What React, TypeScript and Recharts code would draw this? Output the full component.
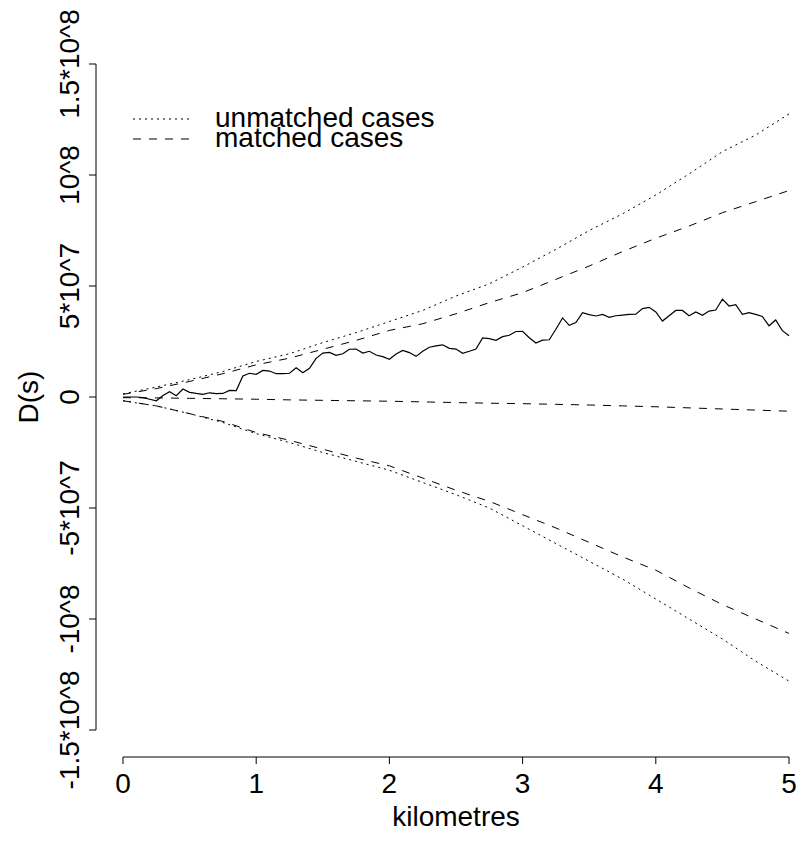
import React from "react";
import { LineChart, Line, XAxis, YAxis, ReferenceLine } from "recharts";

const FONT = '"Liberation Sans", Arial, Helvetica, sans-serif';

// distances (km) for the simulation envelopes
const envelopeKm = [0, 0.25, 0.5, 0.75, 1, 1.25, 1.5, 1.75, 2, 2.25, 2.5, 2.75, 3, 3.25, 3.5, 3.75, 4, 4.25, 4.5, 4.75, 5];

// D(s) in units of 10^6
const unmatchedUpper = [1.4, 4.5, 7.8, 11.5, 16, 19.5, 24.5, 29, 34, 39, 45.5, 51, 58.5, 66.5, 75, 82.5, 91, 100.5, 110.5, 118, 127.5];
const unmatchedLower = [-1.7, -4, -7.5, -11.5, -16.5, -20.5, -25, -29, -33, -38.5, -44, -50, -58, -66, -74, -82, -91, -100, -109, -119, -128];
const matchedUpper = [1.2, 3.8, 7, 10.5, 14.5, 17.5, 21.5, 25.5, 30, 33, 37.5, 42.5, 47, 53, 59, 65.5, 71.5, 77, 83, 88, 93];
const matchedLower = [-1.7, -4, -7.5, -11, -16, -19.5, -23.5, -27.5, -31, -36.5, -42, -47, -53, -59, -65.5, -72, -78, -86, -93.5, -100, -106.5];
const matchedMean = [-0.3, -0.4, -0.6, -0.8, -1.0, -1.3, -1.5, -1.7, -1.9, -2.2, -2.5, -2.8, -3.0, -3.3, -3.6, -4.0, -4.4, -4.9, -5.4, -5.9, -6.4];

// observed D(s), every 0.05 km from 0 to 5
const observed = [
  0, 0, 0, -0.3, -1, -1.7, 0.7, 2.4, 0.6, 3.6,
  2.1, 1.6, 1.2, 1.9, 1.5, 1.6, 3, 2.9, 9.5, 10.7,
  10.2, 12, 11.7, 10.5, 10.5, 10.7, 13.2, 10.9, 12.9, 17.4,
  19.8, 20.1, 18.8, 19.5, 21.5, 21.6, 19.8, 20.6, 18.9, 18.2,
  17, 19.4, 21, 20, 18.3, 20.6, 22.4, 23, 23.5, 21.9,
  21.6, 19.7, 20.6, 21.6, 26.6, 26.3, 25.5, 27.2, 27.8, 29.5,
  29.6, 26.7, 24.3, 25.6, 25.8, 30.5, 35.6, 32.3, 33.5, 38,
  37.1, 36.5, 37.2, 35.9, 36.6, 36.9, 37.2, 37.3, 39.8, 40.4,
  38.3, 34.2, 36.6, 39, 39, 36.6, 38.3, 36.8, 38.7, 39.2,
  44.1, 41, 41.6, 37.2, 38, 37.2, 36.3, 32.1, 34.7, 29.9,
  27.6,
];

const xTicks = [0, 1, 2, 3, 4, 5];
const yTicks = [-150, -100, -50, 0, 50, 100, 150];
const yTickLabels = ["-1.5*10^8", "-10^8", "-5*10^7", "0", "5*10^7", "10^8", "1.5*10^8"];

const X_MIN = -0.2027;
const Y_MIN = -162.16;

const toRows = (ys: number[]) => ys.map((d, i) => ({ km: envelopeKm[i], d }));
const observedRows = observed.map((d, i) => ({ km: i * 0.05, d }));

const DOTTED = "2 4";
const DASHED = "8 8";

function YTick(props: any) {
  const { x, y, payload } = props;
  const label = yTickLabels[yTicks.indexOf(payload.value)];
  return (
    <text
      x={x}
      y={y}
      transform={`rotate(-90 ${x} ${y})`}
      textAnchor="middle"
      fontSize={28}
      fontFamily={FONT}
      fill="#000"
    >
      {label}
    </text>
  );
}

function Key() {
  return (
    <svg width={460} height={160} style={{ position: "absolute", left: 0, top: 0, pointerEvents: "none" }}>
      <line x1={133} y1={119} x2={190} y2={119} stroke="#000" strokeDasharray={DOTTED} />
      <line x1={133} y1={139} x2={190} y2={139} stroke="#000" strokeDasharray={DASHED} />
      <text x={215} y={127} fontSize={28} fontFamily={FONT} fill="#000">unmatched cases</text>
      <text x={215} y={147} fontSize={28} fontFamily={FONT} fill="#000">matched cases</text>
    </svg>
  );
}

export default function App() {
  return (
    <div style={{ position: "absolute", left: 0, top: 0, width: 798, height: 841, background: "#fff" }}>
      <LineChart width={798} height={841} margin={{ top: 64, right: 9, bottom: 0, left: 0 }}>
        <XAxis
          type="number"
          dataKey="km"
          domain={[X_MIN, 5]}
          ticks={xTicks}
          height={84}
          axisLine={false}
          tickLine={{ stroke: "#000" }}
          tickSize={7}
          tickMargin={9}
          tick={{ fill: "#000", fontSize: 28, fontFamily: FONT }}
          label={() => (
            <text x={456} y={826} textAnchor="middle" fontSize={28} fontFamily={FONT} fill="#000">
              kilometres
            </text>
          )}
        />
        <YAxis
          type="number"
          domain={[Y_MIN, 150]}
          ticks={yTicks}
          width={96}
          axisLine={false}
          tickLine={{ stroke: "#000" }}
          tickSize={7}
          tickMargin={10}
          tick={<YTick />}
          label={() => (
            <text
              x={38}
              y={397}
              transform="rotate(-90 38 397)"
              textAnchor="middle"
              fontSize={28}
              fontFamily={FONT}
              fill="#000"
            >
              D(s)
            </text>
          )}
        />
        <ReferenceLine segment={[{ x: 0, y: Y_MIN }, { x: 5, y: Y_MIN }]} stroke="#000" />
        <ReferenceLine segment={[{ x: X_MIN, y: -150 }, { x: X_MIN, y: 150 }]} stroke="#000" />

        <Line data={toRows(unmatchedUpper)} dataKey="d" type="linear" stroke="#000" strokeWidth={1} strokeDasharray={DOTTED} dot={false} isAnimationActive={false} />
        <Line data={toRows(unmatchedLower)} dataKey="d" type="linear" stroke="#000" strokeWidth={1} strokeDasharray={DOTTED} dot={false} isAnimationActive={false} />
        <Line data={toRows(matchedUpper)} dataKey="d" type="linear" stroke="#000" strokeWidth={1} strokeDasharray={DASHED} dot={false} isAnimationActive={false} />
        <Line data={toRows(matchedLower)} dataKey="d" type="linear" stroke="#000" strokeWidth={1} strokeDasharray={DASHED} dot={false} isAnimationActive={false} />
        <Line data={toRows(matchedMean)} dataKey="d" type="linear" stroke="#000" strokeWidth={1} strokeDasharray={DASHED} dot={false} isAnimationActive={false} />
        <Line data={observedRows} dataKey="d" type="linear" stroke="#000" strokeWidth={1.2} dot={false} isAnimationActive={false} />
      </LineChart>
      <Key />
    </div>
  );
}
